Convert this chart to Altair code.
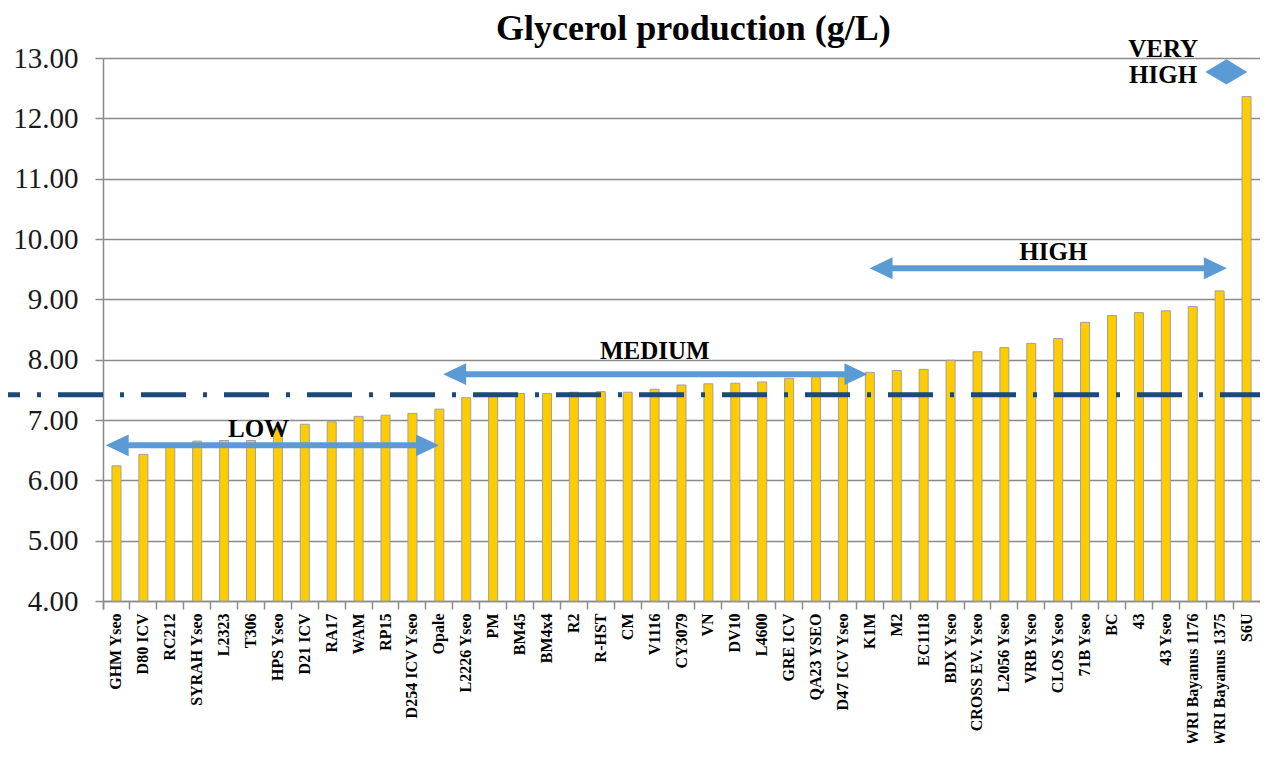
import altair as alt
import pandas as pd

# ---------------- data ----------------
strains = [
    "GHM Yseo", "D80 ICV", "RC212", "SYRAH Yseo", "L2323", "T306", "HPS Yseo",
    "D21 ICV", "RA17", "WAM", "RP15", "D254 ICV Yseo", "Opale", "L2226 Yseo",
    "PM", "BM45", "BM4x4", "R2", "R-HST", "CM", "V1116", "CY3079", "VN", "DV10",
    "L4600", "GRE ICV", "QA23 YSEO", "D47 ICV Yseo", "K1M", "M2", "EC1118",
    "BDX Yseo", "CROSS EV. Yseo", "L2056 Yseo", "VRB Yseo", "CLOS Yseo",
    "71B Yseo", "BC", "43", "43 Yseo", "AWRI Bayanus 1176", "AWRI Bayanus 1375",
    "S6U",
]
glycerol = [
    6.24, 6.43, 6.55, 6.65, 6.66, 6.66, 6.85, 6.93, 6.97, 7.06, 7.08, 7.11,
    7.18, 7.37, 7.42, 7.44, 7.44, 7.46, 7.47, 7.46, 7.51, 7.58, 7.60, 7.61,
    7.63, 7.69, 7.73, 7.75, 7.79, 7.82, 7.84, 7.99, 8.13, 8.20, 8.27, 8.35,
    8.62, 8.73, 8.78, 8.81, 8.88, 9.14, 12.36,
]
mean_value = [7.42]

y_ticks = [4, 5, 6, 7, 8, 9, 10, 11, 12, 13]

# category ranges (arrows), in bar-index units
range_names = ["LOW", "MEDIUM", "HIGH"]
range_start = [-0.40, 12.14, 27.99]
range_end = [11.99, 27.91, 41.27]
range_level = [6.58, 7.76, 9.515]

label_texts = ["LOW", "MEDIUM", "HIGH", "VERY", "HIGH"]
label_x = [5.28, 20.01, 34.82, 38.90, 38.90]
label_y = [6.72, 8.006, 9.65, 13.02, 12.58]

very_high_x = [41.25]
very_high_y = [12.77]

title_text = ["Glycerol production (g/L)"]
title_x = [21.44]
title_y = [13.30]

# ---------------- style ----------------
W, H = 1157, 543
SERIF = "Liberation Serif"
GRID = "#8a8a8a"
BLUE = "#5B9BD5"
NAVY = "#1B4A78"
YELLOW = "#FFCC00"

bars_df = pd.DataFrame({"strain": strains, "glycerol": glycerol})
mean_df = pd.DataFrame({"mean": mean_value})
arrows_df = pd.DataFrame({"name": range_names, "start": range_start,
                          "end": range_end, "level": range_level})
labels_df = pd.DataFrame({"text": label_texts, "x": label_x, "y": label_y})
diamond_df = pd.DataFrame({"x": very_high_x, "y": very_high_y})
title_df = pd.DataFrame({"text": title_text, "x": title_x, "y": title_y})

y_scale = alt.Scale(domain=[4, 13], nice=False, zero=False)
xq = alt.Scale(domain=[-0.5, 42.5], nice=False, zero=False)

bars = alt.Chart(bars_df).mark_bar(
    size=9, color=YELLOW, stroke="#A0A0A0", strokeWidth=1
).encode(
    x=alt.X(
        "strain:N", sort=None,
        scale=alt.Scale(paddingInner=0, paddingOuter=0),
        axis=alt.Axis(
            title=None, labelAngle=-90, labelFont=SERIF, labelFontSize=16,
            labelFontWeight="bold", labelColor="black", labelPadding=4,
            tickSize=8, tickColor=GRID, tickWidth=1.5, bandPosition=0,
            tickExtra=True, domainColor=GRID, domainWidth=1.5, grid=False,
            labelOverlap=False,
        ),
    ),
    y=alt.Y(
        "glycerol:Q", scale=y_scale,
        axis=alt.Axis(
            title=None, values=y_ticks, format=".2f", labelFont=SERIF,
            labelFontSize=29, labelColor="#1a1a1a", labelPadding=17,
            tickSize=8, tickColor=GRID, tickWidth=1.5, domainColor=GRID,
            domainWidth=1.5, gridColor=GRID, gridWidth=1.5,
        ),
    ),
    y2=alt.datum(4),
)

mean_line = alt.Chart(mean_df).mark_rule(
    color=NAVY, strokeWidth=5, strokeDash=[45, 17, 4, 17], strokeDashOffset=33
).encode(
    y=alt.Y("mean:Q", scale=y_scale),
    x=alt.value(-95),
    x2=alt.value(W + 4),
)

shafts = alt.Chart(arrows_df).mark_rule(
    color=BLUE, strokeWidth=6, xOffset=11, x2Offset=-11
).encode(
    x=alt.X("start:Q", scale=xq, axis=None),
    x2="end:Q",
    y=alt.Y("level:Q", scale=y_scale),
)

head_left = alt.Chart(arrows_df).mark_point(
    shape="M1,-0.95L-1,0L1,0.95Z", size=529, filled=True, color=BLUE,
    opacity=1, strokeWidth=0, xOffset=11.5
).encode(
    x=alt.X("start:Q", scale=xq, axis=None),
    y=alt.Y("level:Q", scale=y_scale),
)

head_right = alt.Chart(arrows_df).mark_point(
    shape="M-1,-0.95L1,0L-1,0.95Z", size=529, filled=True, color=BLUE,
    opacity=1, strokeWidth=0, xOffset=-11.5
).encode(
    x=alt.X("end:Q", scale=xq, axis=None),
    y=alt.Y("level:Q", scale=y_scale),
)

diamond = alt.Chart(diamond_df).mark_point(
    shape="M-1,0L0,-0.6L1,0L0,0.6Z", size=1764, filled=True, color=BLUE,
    opacity=1, strokeWidth=0
).encode(
    x=alt.X("x:Q", scale=xq, axis=None),
    y=alt.Y("y:Q", scale=y_scale),
)

labels = alt.Chart(labels_df).mark_text(
    font=SERIF, fontSize=25, fontWeight="bold", color="black",
    baseline="alphabetic", align="center"
).encode(
    x=alt.X("x:Q", scale=xq, axis=None),
    y=alt.Y("y:Q", scale=y_scale),
    text="text:N",
)

title = alt.Chart(title_df).mark_text(
    font=SERIF, fontSize=36, fontWeight="bold", color="black",
    baseline="alphabetic", align="center"
).encode(
    x=alt.X("x:Q", scale=xq, axis=None),
    y=alt.Y("y:Q", scale=y_scale),
    text="text:N",
)

chart = alt.layer(
    bars, mean_line, shafts, head_left, head_right, diamond, labels, title
).resolve_scale(
    x="independent"
).properties(
    width=W,
    height=H,
    autosize=alt.AutoSizeParams(type="none"),
    padding={"left": 95, "top": 50, "right": 0, "bottom": 142},
    background="white",
).configure_view(strokeWidth=0)

chart.save("out.html", embed_options={"renderer": "svg", "actions": False})
